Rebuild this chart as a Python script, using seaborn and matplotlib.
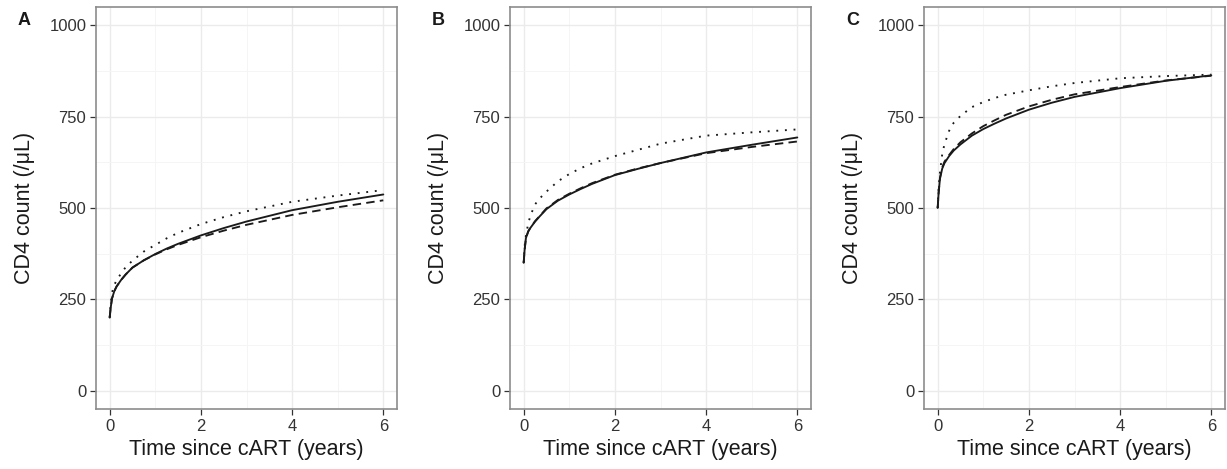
import numpy as np
import pandas as pd
import matplotlib
matplotlib.use("Agg")
import matplotlib.pyplot as plt
import seaborn as sns
from matplotlib.ticker import MultipleLocator

# ---- data ----
times = [0, 0.02, 0.05, 0.1, 0.15, 0.25, 0.35, 0.5, 0.75, 1, 1.25, 1.5,
         2, 2.5, 3, 4, 5, 6]

panel_labels = ["A", "B", "C"]

a_solid  = [200, 225, 252, 272, 285, 303, 318, 337, 357, 374, 389, 402,
            425, 445, 463, 494, 517, 537]
a_dashed = [200, 225, 252, 272, 285, 303, 318, 337, 357, 373, 387, 399,
            420, 438, 454, 481, 502, 521]
a_dotted = [200, 235, 268, 289, 302, 321, 338, 356, 381, 399, 417, 432,
            456, 475, 491, 517, 534, 549]

b_solid  = [350, 385, 418, 436, 446, 463, 477, 497, 520, 537, 552, 566,
            590, 607, 623, 652, 673, 693]
b_dashed = [350, 385, 418, 436, 447, 464, 478, 499, 522, 539, 554, 568,
            591, 608, 623, 650, 667, 682]
b_dotted = [350, 395, 425, 458, 480, 510, 526, 545, 573, 593, 609, 622,
            642, 659, 676, 698, 707, 715]

c_solid  = [500, 540, 580, 608, 623, 642, 657, 674, 698, 716, 731, 745,
            769, 788, 804, 828, 848, 863]
c_dashed = [500, 542, 583, 611, 627, 645, 661, 680, 704, 724, 740, 755,
            778, 796, 811, 831, 849, 862]
c_dotted = [500, 555, 598, 648, 675, 711, 733, 752, 776, 790, 801, 810,
            822, 833, 842, 855, 861, 865]

x_ticks = [0, 2, 4, 6]
y_ticks = [0, 250, 500, 750, 1000]
x_label = "Time since cART (years)"
y_label = "CD4 count (/\u03bcL)"

panels = [
    {"solid": a_solid, "dashed": a_dashed, "dotted": a_dotted},
    {"solid": b_solid, "dashed": b_dashed, "dotted": b_dotted},
    {"solid": c_solid, "dashed": c_dashed, "dotted": c_dotted},
]

# ---- styling ----
sns.set_style("white")
plt.rcParams["font.family"] = ["Liberation Sans", "DejaVu Sans"]

fig = plt.figure(figsize=(12.27, 4.69), dpi=100)
lefts = [96 / 1227, 510 / 1227, 924 / 1227]
width = 301 / 1227
bottom = 1 - 409 / 469
height = 402 / 469
letter_x = [18 / 1227, 432 / 1227, 846 / 1227]

dash_styles = {"solid": "", "dashed": (4.5, 2.8), "dotted": (1, 3.6)}

for i, pdata in enumerate(panels):
    ax = fig.add_axes([lefts[i], bottom, width, height])
    rows = []
    for style in ["solid", "dashed", "dotted"]:
        for t, v in zip(times, pdata[style]):
            rows.append({"time": t, "cd4": v, "style": style})
    df = pd.DataFrame(rows)
    sns.lineplot(data=df, x="time", y="cd4", style="style",
                 dashes=dash_styles, color="#1a1a1a", linewidth=1.35,
                 legend=False, ax=ax, estimator=None, sort=True)
    ax.set_xlim(-0.3, 6.3)
    ax.set_ylim(-50, 1050)
    ax.set_xticks(x_ticks)
    ax.set_yticks(y_ticks)
    ax.xaxis.set_minor_locator(MultipleLocator(1))
    ax.yaxis.set_minor_locator(MultipleLocator(125))
    ax.grid(which="major", color="#ebebeb", linewidth=1.0)
    ax.grid(which="minor", color="#f4f4f4", linewidth=0.6)
    ax.set_axisbelow(True)
    for sp in ax.spines.values():
        sp.set_visible(True)
        sp.set_color("#8c8c8c")
        sp.set_linewidth(1.2)
    ax.tick_params(which="major", length=4, width=0.9, color="#333333",
                   labelsize=12, labelcolor="#333333", pad=3,
                   bottom=True, left=True)
    ax.tick_params(which="minor", length=0)
    ax.set_xlabel(x_label, fontsize=15.5, color="#1a1a1a", labelpad=4)
    ax.set_ylabel(y_label, fontsize=15.5, color="#1a1a1a", labelpad=10)
    fig.text(letter_x[i], 1 - 12 / 469, panel_labels[i], fontsize=13,
             fontweight="bold", va="top", ha="left", color="#1a1a1a")

fig.savefig("out.png", dpi=100)
